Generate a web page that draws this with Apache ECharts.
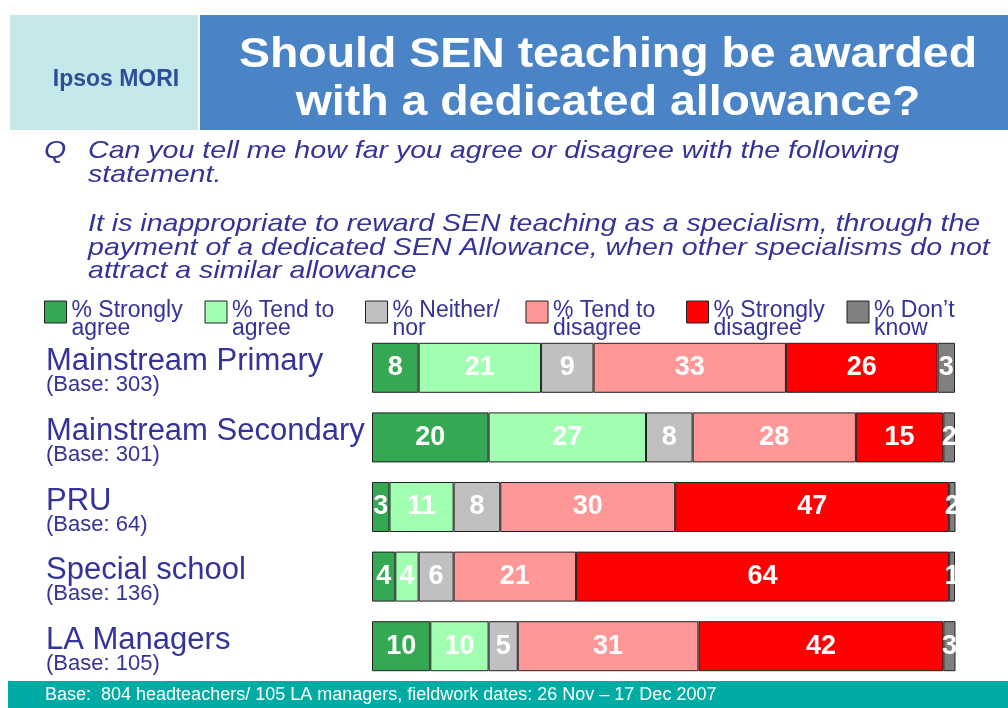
<!DOCTYPE html>
<html>
<head>
<meta charset="utf-8">
<script src="https://cdn.jsdelivr.net/npm/echarts@6/dist/echarts.min.js"></script>
<style>
  html, body { margin: 0; padding: 0; background: #fff; }
  #chart { width: 1008px; height: 708px; }
</style>
</head>
<body>
<div id="chart"></div>
<script>
// groups shown on the left, top to bottom
const groups = ['Mainstream Primary', 'Mainstream Secondary', 'PRU', 'Special school', 'LA Managers'];
const bases = [303, 301, 64, 136, 105];

const seriesNames = ['% Strongly\nagree', '% Tend to\nagree', '% Neither/\nnor', '% Tend to\ndisagree', '% Strongly\ndisagree', '% Don\u2019t\nknow'];
const seriesColors = ['#35a853', '#a0ffb0', '#c0c0c0', '#ff9797', '#ff0000', '#808080'];

const stronglyAgree = [8, 20, 3, 4, 10];
const tendAgree = [21, 27, 11, 4, 10];
const neither = [9, 8, 8, 6, 5];
const tendDisagree = [33, 28, 30, 21, 31];
const stronglyDisagree = [26, 15, 47, 64, 42];
const dontKnow = [3, 2, 2, 1, 3];

const values = [stronglyAgree, tendAgree, neither, tendDisagree, stronglyDisagree, dontKnow];

const navy = '#333399';
const font = '"Liberation Sans", Arial, sans-serif';
const chart = echarts.init(document.getElementById('chart'));

const series = seriesNames.map((name, i) => ({
  name: name,
  type: 'bar',
  stack: 'total',
  barWidth: 50,
  data: values[i],
  itemStyle: { color: seriesColors[i], borderColor: '#222', borderWidth: 1 },
  label: {
    show: true,
    position: 'inside',
    color: '#fff',
    fontWeight: 'bold',
    fontSize: 27,
    fontFamily: font
  },
  emphasis: { disabled: true }
}));

const qText = {
  fill: navy,
  fontStyle: 'italic',
  fontSize: 24,
  lineHeight: 23.5,
  fontFamily: font
};

chart.setOption({
  animation: false,
  backgroundColor: '#fff',
  legend: {
    left: 39,
    top: 288,
    width: 990,
    itemWidth: 22,
    itemHeight: 22,
    itemGap: 5,
    icon: 'rect',
    data: seriesNames,
    itemStyle: { borderColor: '#222', borderWidth: 1 },
    // empty first line pushes the two text lines below the square's centre
    formatter: name => '{s| }\n' + name.split('\n').map(l => '{t|' + l + '}').join('\n'),
    textStyle: {
      fontFamily: font,
      rich: {
        s: { fontSize: 2, lineHeight: 15, width: 128 },
        t: { color: navy, fontSize: 23, lineHeight: 18, width: 128, fontFamily: font }
      }
    },
    selectedMode: false
  },
  grid: { left: 372, right: 53, top: 333, bottom: 27 },
  xAxis: {
    type: 'value',
    min: 0,
    max: 100,
    show: false
  },
  yAxis: {
    type: 'category',
    inverse: true,
    data: groups,
    axisLine: { show: false },
    axisTick: { show: false },
    axisLabel: {
      align: 'left',
      margin: 326,
      padding: [8, 0, 0, 0],
      formatter: (v, idx) => '{a|' + v + '}\n{b|(Base: ' + bases[idx] + ')}',
      rich: {
        a: { fontSize: 31, color: navy, lineHeight: 27, fontFamily: font },
        b: { fontSize: 22, color: navy, lineHeight: 20, fontFamily: font }
      }
    }
  },
  series: series,
  graphic: [
    { type: 'rect', shape: { x: 10, y: 15, width: 188, height: 115 }, style: { fill: '#c5e8ea' } },
    { type: 'rect', shape: { x: 200, y: 15, width: 808, height: 115 }, style: { fill: '#4a84c6' } },
    {
      type: 'text', x: 116, y: 80,
      style: { text: 'Ipsos MORI', fill: '#2d4f9a', fontSize: 23, fontWeight: 'bold', align: 'center', verticalAlign: 'middle', fontFamily: font }
    },
    {
      type: 'text', x: 608, y: 79, scaleX: 1.08,
      style: {
        text: 'Should SEN teaching be awarded\nwith a dedicated allowance?',
        fill: '#fff', fontSize: 43, fontWeight: 'bold', lineHeight: 48,
        align: 'center', verticalAlign: 'middle',
        fontFamily: font
      }
    },
    { type: 'text', x: 44, y: 140, scaleX: 1.19, style: Object.assign({ text: 'Q' }, qText) },
    {
      type: 'text', x: 88, y: 140, scaleX: 1.19,
      style: Object.assign({ text: 'Can you tell me how far you agree or disagree with the following\nstatement.' }, qText)
    },
    {
      type: 'text', x: 88, y: 213, scaleX: 1.19,
      style: Object.assign({ text: 'It is inappropriate to reward SEN teaching as a specialism, through the\npayment of a dedicated SEN Allowance, when other specialisms do not\nattract a similar allowance' }, qText)
    },
    { type: 'rect', shape: { x: 8, y: 681, width: 1000, height: 27 }, style: { fill: '#00aba3' } },
    {
      type: 'text', x: 45, y: 695,
      style: {
        text: 'Base:  804 headteachers/ 105 LA managers, fieldwork dates: 26 Nov \u2013 17 Dec 2007',
        fill: '#fff', fontSize: 18, verticalAlign: 'middle',
        fontFamily: font
      }
    }
  ]
});
</script>
</body>
</html>
